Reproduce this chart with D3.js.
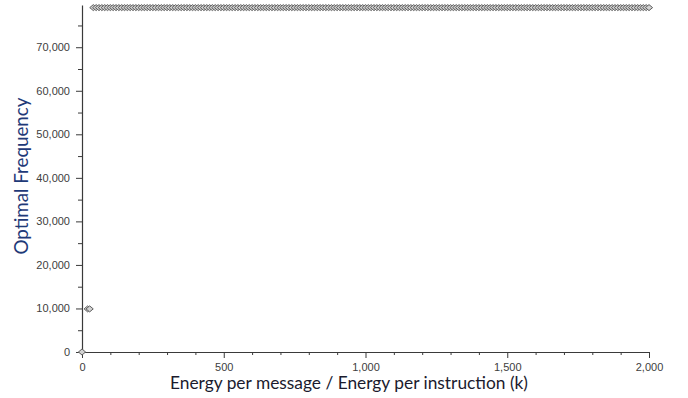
<!DOCTYPE html>
<html>
<head>
<meta charset="utf-8">
<script src="https://cdn.jsdelivr.net/npm/d3@7"></script>
<style>
  html, body { margin: 0; padding: 0; background: #ffffff; }
  svg { display: block; }
</style>
</head>
<body>
<svg id="chart" width="688" height="398"></svg>
<script>
// Optimal frequency as a function of the message/instruction energy ratio k.
const lowK = [0, 20, 27];
const lowFrequency = [0, 9900, 9900];

const plateauK = [
  40, 50, 60, 70, 80, 90, 100, 110, 120, 130, 140, 150, 160, 170, 180, 190, 200, 210, 220, 230,
  240, 250, 260, 270, 280, 290, 300, 310, 320, 330, 340, 350, 360, 370, 380, 390, 400, 410, 420, 430,
  440, 450, 460, 470, 480, 490, 500, 510, 520, 530, 540, 550, 560, 570, 580, 590, 600, 610, 620, 630,
  640, 650, 660, 670, 680, 690, 700, 710, 720, 730, 740, 750, 760, 770, 780, 790, 800, 810, 820, 830,
  840, 850, 860, 870, 880, 890, 900, 910, 920, 930, 940, 950, 960, 970, 980, 990, 1000, 1010, 1020, 1030,
  1040, 1050, 1060, 1070, 1080, 1090, 1100, 1110, 1120, 1130, 1140, 1150, 1160, 1170, 1180, 1190, 1200, 1210, 1220, 1230,
  1240, 1250, 1260, 1270, 1280, 1290, 1300, 1310, 1320, 1330, 1340, 1350, 1360, 1370, 1380, 1390, 1400, 1410, 1420, 1430,
  1440, 1450, 1460, 1470, 1480, 1490, 1500, 1510, 1520, 1530, 1540, 1550, 1560, 1570, 1580, 1590, 1600, 1610, 1620, 1630,
  1640, 1650, 1660, 1670, 1680, 1690, 1700, 1710, 1720, 1730, 1740, 1750, 1760, 1770, 1780, 1790, 1800, 1810, 1820, 1830,
  1840, 1850, 1860, 1870, 1880, 1890, 1900, 1910, 1920, 1930, 1940, 1950, 1960, 1970, 1980, 1990, 2000
];
const plateauFrequency = 79100;

const xMajorTicks = [0, 500, 1000, 1500, 2000];
const xMinorTicks = [100, 200, 300, 400, 600, 700, 800, 900, 1100, 1200, 1300, 1400, 1600, 1700, 1800, 1900];
const yMajorTicks = [0, 10000, 20000, 30000, 40000, 50000, 60000, 70000];
const yMinorTicks = [5000, 15000, 25000, 35000, 45000, 55000, 65000, 75000];

const xTitle = "Energy per message / Energy per instruction (k)";
const yTitle = "Optimal Frequency";

const points = lowK.map((k, i) => ({ k, f: lowFrequency[i] }))
  .concat(plateauK.map(k => ({ k, f: plateauFrequency })));

const svg = d3.select("#chart");
const plot = { left: 82, right: 649, top: 5, bottom: 352 };

const x = d3.scaleLinear().domain([0, 2000]).range([plot.left, plot.right]);
const y = d3.scaleLinear().domain([0, 79700]).range([plot.bottom, plot.top]);

const fmt = d3.format(",");
const tickFont = "'Liberation Sans', Arial, sans-serif";
const axisColor = "#3a3a3a";

function styleAxis(g) {
  g.select(".domain").attr("stroke", axisColor).attr("stroke-width", 1.2);
  g.selectAll(".tick line").attr("stroke", axisColor).attr("stroke-width", 1);
  g.selectAll(".tick text")
    .attr("fill", "#404040")
    .style("font-family", tickFont)
    .style("font-size", "11px");
}

// minor ticks first, then the labelled major axes on top
svg.append("g")
  .attr("transform", `translate(0,${plot.bottom})`)
  .call(d3.axisBottom(x).tickValues(xMinorTicks).tickSize(3).tickFormat(""))
  .call(g => { g.select(".domain").remove(); g.selectAll(".tick line").attr("stroke", axisColor); });

svg.append("g")
  .attr("transform", `translate(${plot.left},0)`)
  .call(d3.axisLeft(y).tickValues(yMinorTicks).tickSize(4).tickFormat(""))
  .call(g => { g.select(".domain").remove(); g.selectAll(".tick line").attr("stroke", axisColor); });

svg.append("g")
  .attr("transform", `translate(0,${plot.bottom})`)
  .call(d3.axisBottom(x).tickValues(xMajorTicks).tickSizeInner(6).tickSizeOuter(0).tickPadding(5).tickFormat(fmt))
  .call(styleAxis);

svg.append("g")
  .attr("transform", `translate(${plot.left},0)`)
  .call(d3.axisLeft(y).tickValues(yMajorTicks).tickSizeInner(6).tickSizeOuter(0).tickPadding(6).tickFormat(fmt))
  .call(styleAxis);

// diamond markers
const diamond = "M0,-3 L3.6,0 L0,3 L-3.6,0 Z";
svg.append("g")
  .selectAll("path")
  .data(points)
  .join("path")
  .attr("d", diamond)
  .attr("transform", d => `translate(${x(d.k)},${y(d.f)})`)
  .attr("fill", "#d2d2d2")
  .attr("stroke", "#5f5f5f")
  .attr("stroke-width", 1);

// axis titles, sized to their set lengths
const titleFont = "Lato, 'Open Sans', sans-serif";
function fitText(sel, targetLength) {
  sel.style("font-size", "20px");
  const w = sel.node().getComputedTextLength();
  sel.style("font-size", (20 * targetLength / w).toFixed(2) + "px");
}

const xt = svg.append("text")
  .attr("x", 349)
  .attr("y", 389)
  .attr("text-anchor", "middle")
  .attr("fill", "#1b1b2e")
  .style("font-family", titleFont)
  .text(xTitle);
fitText(xt, 358);

const yt = svg.append("text")
  .attr("transform", "translate(28,176) rotate(-90)")
  .attr("text-anchor", "middle")
  .attr("fill", "#1f3a78")
  .style("font-family", titleFont)
  .text(yTitle);
fitText(yt, 157);
</script>
</body>
</html>
